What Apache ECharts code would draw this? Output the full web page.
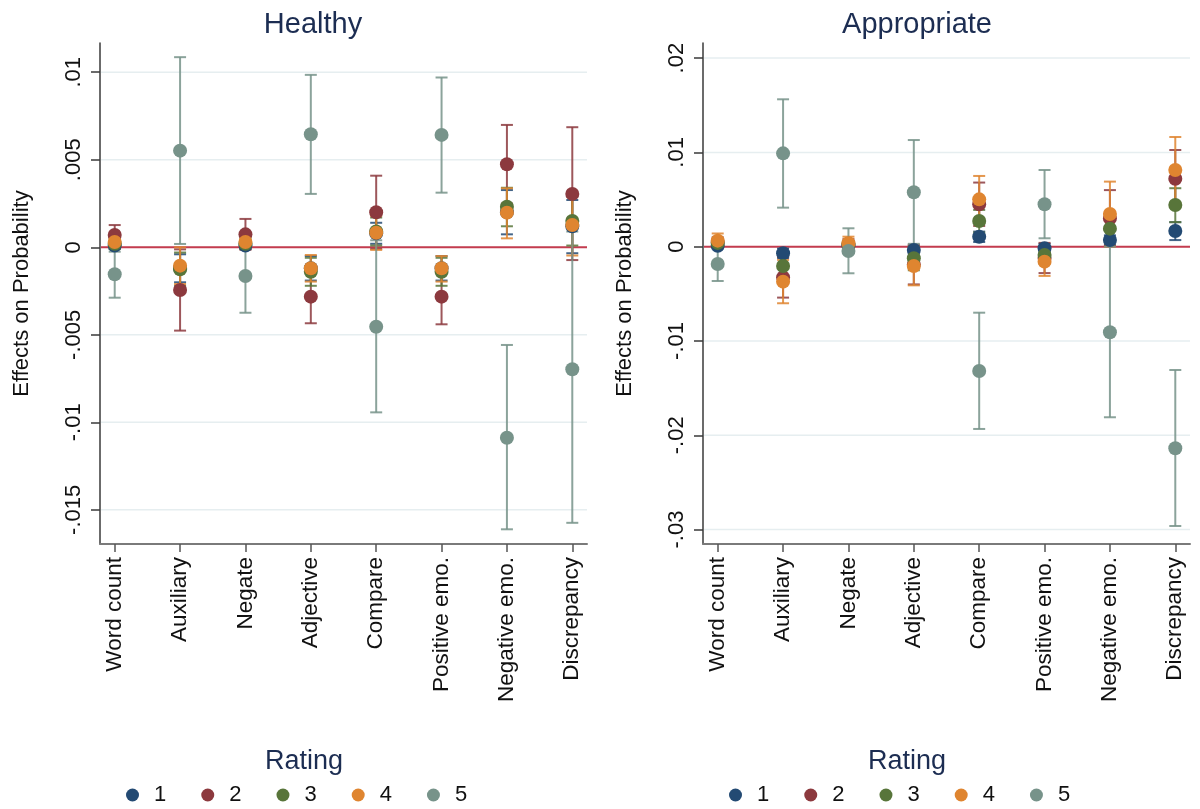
<!DOCTYPE html>
<html><head><meta charset="utf-8">
<script src="https://cdn.jsdelivr.net/npm/echarts@6/dist/echarts.min.js"></script>
<style>html,body{margin:0;padding:0;background:#fff}#c{width:1200px;height:809px}</style>
</head><body><div id="c"></div>
<script>
const categories = ["Word count","Auxiliary","Negate","Adjective","Compare","Positive emo.","Negative emo.","Discrepancy"];
const ratings = ["1","2","3","4","5"];

// Healthy panel
const hTicks = [-0.015,-0.01,-0.005,0,0.005,0.01];
const hTickLabels = ["-.015","-.01","-.005","0",".005",".01"];
const h1 = [0.0001,-0.0012,0.0001,-0.0012,0.0008,-0.0012,0.0020,0.0012];
const h1lo = [-0.0001,-0.0020,-0.0001,-0.0019,0.0002,-0.0019,0.00074,-0.00034];
const h1hi = [0.0003,-0.0004,0.0003,-0.0005,0.0014,-0.0005,0.00327,0.0027];
const h2 = [0.0007,-0.00244,0.00074,-0.00282,0.0020,-0.00282,0.00474,0.00305];
const h2lo = [0.00013,-0.00476,-0.00014,-0.00434,-0.00009,-0.0044,0.0025,-0.00073];
const h2hi = [0.00127,-0.00012,0.00162,-0.0013,0.00409,-0.00124,0.00699,0.00686];
const h3 = [0.0002,-0.00126,0.0002,-0.0014,0.0009,-0.0014,0.00232,0.0015];
const h3lo = [-0.0001,-0.0022,-0.0001,-0.0022,0.0001,-0.0022,0.0012,0.0001];
const h3hi = [0.0005,-0.0003,0.0005,-0.0006,0.0017,-0.0006,0.0034,0.0029];
const h4 = [0.0003,-0.00105,0.0003,-0.0012,0.00083,-0.0012,0.00198,0.00127];
const h4lo = [0.0000,-0.0021,0.0000,-0.00196,-0.00015,-0.00196,0.00051,-0.00047];
const h4hi = [0.0006,0.0000,0.0006,-0.00044,0.0018,-0.0005,0.00337,0.0030];
const h5 = [-0.00154,0.00552,-0.00164,0.00646,-0.00454,0.00642,-0.01088,-0.00697];
const h5lo = [-0.00288,0.00019,-0.00374,0.00305,-0.00943,0.00312,-0.01611,-0.01574];
const h5hi = [-0.00025,0.01086,0.0004,0.00985,0.0004,0.0097,-0.00558,0.0009];

// Appropriate panel
const aTicks = [-0.03,-0.02,-0.01,0,0.01,0.02];
const aTickLabels = ["-.03","-.02","-.01","0",".01",".02"];
const a1 = [0.0001,-0.0007,0.0001,-0.00035,0.00106,-0.00017,0.00071,0.00166];
const a1lo = [-0.0002,-0.0012,-0.0002,-0.0008,0.0005,-0.0006,0.0002,0.0007];
const a1hi = [0.0004,-0.0002,0.0004,0.0001,0.0016,0.0003,0.0012,0.0026];
const a2 = [0.0005,-0.00325,0.0003,-0.0019,0.00449,-0.0012,0.0030,0.00721];
const a2lo = [0.0000,-0.0054,-0.0002,-0.0040,0.0022,-0.0028,0.0001,0.0042];
const a2hi = [0.0010,-0.0011,0.0008,0.0002,0.0068,0.0004,0.0060,0.01025];
const a3 = [0.0004,-0.00205,0.0002,-0.00123,0.00272,-0.00088,0.00191,0.00442];
const a3lo = [0.0000,-0.0036,-0.0002,-0.0025,0.0015,-0.0018,0.0008,0.0026];
const a3hi = [0.0008,-0.0005,0.0006,0.0000,0.0039,0.0000,0.0030,0.0062];
const a4 = [0.00064,-0.00371,0.00036,-0.00205,0.00502,-0.00159,0.00347,0.00813];
const a4lo = [-0.0001,-0.0060,-0.0003,-0.0041,0.0025,-0.0031,0.0000,0.0046];
const a4hi = [0.0014,-0.0014,0.00106,0.0000,0.0075,-0.0001,0.0069,0.01163];
const a5 = [-0.00183,0.0099,-0.00046,0.00577,-0.01318,0.0045,-0.00908,-0.02138];
const a5lo = [-0.00364,0.00414,-0.00282,0.0003,-0.01933,0.00089,-0.01809,-0.02962];
const a5hi = [-0.0001,0.01563,0.00195,0.01131,-0.0070,0.00813,0.0000,-0.01308];

const colors = ["#234a73","#8c393e","#58753a","#df8530","#77938a"];
const FONT = "Liberation Sans, Arial, sans-serif";

const panels = [
  {ticks:hTicks, labels:hTickLabels, min:-0.01695, max:0.01167, left:100,
   mean:[h1,h2,h3,h4,h5], lo:[h1lo,h2lo,h3lo,h4lo,h5lo], hi:[h1hi,h2hi,h3hi,h4hi,h5hi]},
  {ticks:aTicks, labels:aTickLabels, min:-0.03153, max:0.0216, left:703,
   mean:[a1,a2,a3,a4,a5], lo:[a1lo,a2lo,a3lo,a4lo,a5lo], hi:[a1hi,a2hi,a3hi,a4hi,a5hi]}
];

const catIdx = categories.map((c,i)=>i+1);
const grid=[], xAxis=[], yAxis=[], series=[];
panels.forEach((p,pi)=>{
  grid.push({left:p.left, top:43, width:487, height:501});
  xAxis.push({type:'value', gridIndex:pi, min:0.775, max:8.225,
    axisLine:{onZero:false, lineStyle:{color:'#7a7a7a', width:2}},
    axisTick:{customValues:catIdx, length:8, lineStyle:{color:'#555', width:1.5}},
    splitLine:{show:false},
    axisLabel:{customValues:catIdx, rotate:90, margin:13, color:'#111', fontSize:22.5, fontFamily:FONT,
      formatter:(v)=>categories[Math.round(v)-1]||''}
  });
  yAxis.push({type:'value', gridIndex:pi, min:p.min, max:p.max,
    name:'Effects on Probability', nameLocation:'middle', nameGap:67,
    nameTextStyle:{color:'#111', fontSize:22, fontFamily:FONT},
    axisLine:{onZero:false, lineStyle:{color:'#3a3a3a', width:1.5}},
    axisTick:{customValues:p.ticks, length:9, lineStyle:{color:'#3a3a3a', width:1.5}},
    splitLine:{show:false},
    axisLabel:{customValues:p.ticks, rotate:90, margin:15, color:'#111', fontSize:22, fontFamily:FONT,
      formatter:(v)=>{let k=p.ticks.findIndex(t=>Math.abs(t-v)<1e-9);return k>=0?p.labels[k]:'';}}
  });
  // gridlines
  series.push({type:'custom', xAxisIndex:pi, yAxisIndex:pi, silent:true, z:1,
    data:p.ticks.map(t=>[1,t]), encode:{x:0,y:1},
    renderItem:(params,api)=>{const cs=params.coordSys;const y=api.coord([1,api.value(1)])[1];
      return {type:'line', shape:{x1:cs.x+1,y1:y,x2:cs.x+cs.width,y2:y}, style:{stroke:'#e6eef0', lineWidth:1.5}};}
  });
  // zero reference line
  series.push({type:'custom', xAxisIndex:pi, yAxisIndex:pi, silent:true, z:2,
    data:[[1,0]], encode:{x:0,y:1},
    renderItem:(params,api)=>{const cs=params.coordSys;const y=api.coord([1,api.value(1)])[1];
      return {type:'line', shape:{x1:cs.x+1,y1:y,x2:cs.x+cs.width,y2:y}, style:{stroke:'#c43c4f', lineWidth:2}};}
  });
  // error bars
  ratings.forEach((r,ri)=>{
    series.push({type:'custom', name:'ci'+r, xAxisIndex:pi, yAxisIndex:pi, silent:true, z:3,
      data:p.lo[ri].map((v,i)=>[i+1, v, p.hi[ri][i]]), encode:{x:0,y:[1,2]},
      renderItem:(params,api)=>{const x=api.value(0);const a=api.coord([x,api.value(1)]);const b=api.coord([x,api.value(2)]);
        const hw=6, st={stroke:colors[ri], lineWidth:2, opacity:0.85};
        return {type:'group', children:[
          {type:'line', shape:{x1:a[0],y1:a[1],x2:b[0],y2:b[1]}, style:st},
          {type:'line', shape:{x1:a[0]-hw,y1:a[1],x2:a[0]+hw,y2:a[1]}, style:st},
          {type:'line', shape:{x1:b[0]-hw,y1:b[1],x2:b[0]+hw,y2:b[1]}, style:st}]};}
    });
  });
  // point estimates
  ratings.forEach((r,ri)=>{
    series.push({type:'scatter', name:r, xAxisIndex:pi, yAxisIndex:pi, z:4, symbol:'circle', symbolSize:14,
      itemStyle:{color:colors[ri], opacity:1}, silent:true,
      data:p.mean[ri].map((v,i)=>[i+1,v])});
  });
});

const legendCommon = {data:ratings, icon:'circle', itemWidth:13, itemHeight:13, itemGap:35, top:784,
  padding:0, selectedMode:false, textStyle:{color:'#111', fontSize:22, fontFamily:FONT, padding:[0,0,0,10]}};

const chart = echarts.init(document.getElementById('c'), null, {renderer:'canvas'});
chart.setOption({
  backgroundColor:'#ffffff',
  animation:false,
  color:colors,
  title:[
    {text:'Healthy', left:308, top:5, textAlign:'center', textStyle:{color:'#1c2d52', fontSize:29, fontWeight:'normal', fontFamily:FONT}},
    {text:'Appropriate', left:912, top:5, textAlign:'center', textStyle:{color:'#1c2d52', fontSize:29, fontWeight:'normal', fontFamily:FONT}},
    {text:'Rating', left:299, top:743, textAlign:'center', textStyle:{color:'#1c2d52', fontSize:27, fontWeight:'normal', fontFamily:FONT}},
    {text:'Rating', left:902, top:743, textAlign:'center', textStyle:{color:'#1c2d52', fontSize:27, fontWeight:'normal', fontFamily:FONT}}
  ],
  legend:[Object.assign({left:126}, legendCommon), Object.assign({left:729}, legendCommon)],
  grid, xAxis, yAxis, series
});
</script></body></html>
